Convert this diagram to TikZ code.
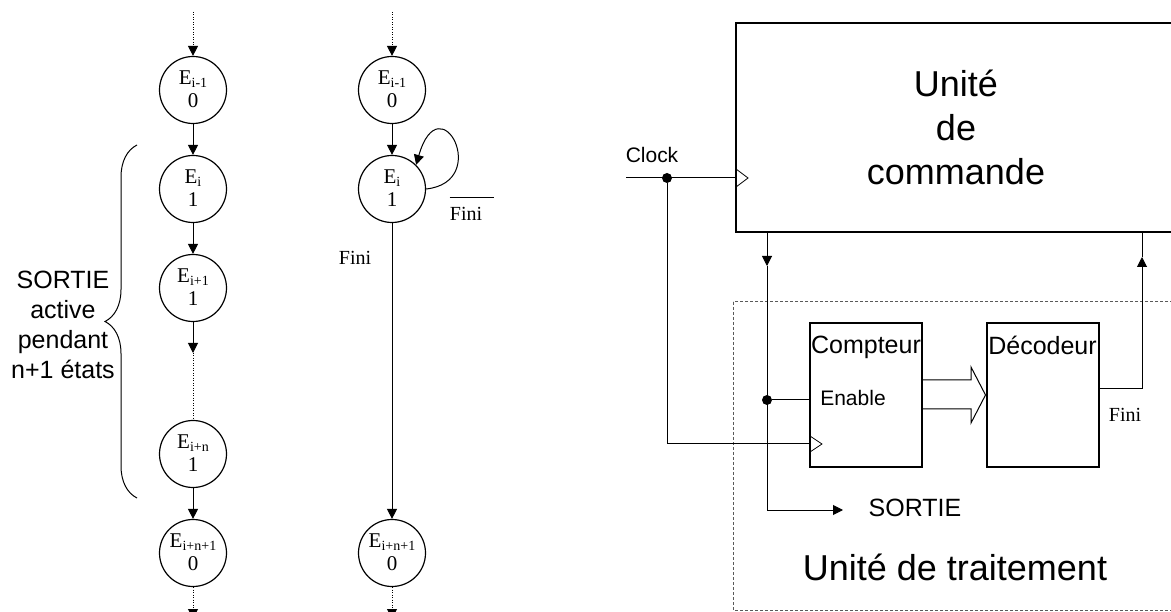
\documentclass[tikz,border=0pt]{standalone}
\usepackage{fontspec}
\setmainfont{Liberation Serif}
\newfontfamily\arialf{Liberation Sans}
\usetikzlibrary{arrows.meta,decorations.pathreplacing,calc}

\newcommand{\etat}[2]{E\raisebox{-3pt}{\fontsize{14}{14}\selectfont #1}\\#2}

\tikzset{
  etat/.style={circle,draw,line width=1.2pt,minimum size=67pt,inner sep=0pt,align=center,
    font=\fontsize{21}{23}\selectfont,text depth=2pt},
  fl/.style={-{Triangle[length=10pt,width=10pt]},line width=1pt},
  pointille/.style={fl,dash pattern=on 1pt off 1.5pt},
  bloc/.style={draw,line width=2pt,minimum width=112pt,minimum height=144pt,inner sep=0pt},
  lbl/.style={font=\arialf\fontsize{25}{30}\selectfont,align=center,inner sep=0pt},
  txt/.style={font=\fontsize{20}{23}\selectfont,inner sep=0pt},
  point/.style={circle,fill,inner sep=0pt,minimum size=10pt},
}

\begin{document}
\begin{tikzpicture}[x=1pt,y=-1pt]
\clip (0,0) rectangle (1171,612);

% graphe de gauche
\node[etat] (Aprev) at (193,90) {\etat{i-1}{0}};
\node[etat] (Ai) at (193,189) {\etat{i}{1}};
\node[etat] (Ai1) at (193,288) {\etat{i+1}{1}};
\node[etat] (Ain) at (193,454) {\etat{i+n}{1}};
\node[etat] (Ain1) at (193,553) {\etat{i+n+1}{0}};
\coordinate (Atop) at (193,12);
\coordinate (Amid) at (193,353);
\coordinate (Abot) at (193,619);
\draw[pointille] (Atop) -- (Aprev);
\draw[fl] (Aprev) -- (Ai);
\draw[fl] (Ai) -- (Ai1);
\draw[fl] (Ai1) -- (Amid);
\draw[line width=1pt,dash pattern=on 1pt off 1.5pt] (Amid) -- (Ain);
\draw[fl] (Ain) -- (Ain1);
\draw[pointille] (Ain1) -- (Abot);
\draw[line width=1pt,decorate,decoration={brace,amplitude=32pt}] (137,498) -- (137,145);
\node[lbl] (sortielbl) at (63,325) {SORTIE\\active\\pendant\\n+1 états};

% graphe de droite
\node[etat] (Bprev) at (392,90) {\etat{i-1}{0}};
\node[etat] (Bi) at (392,189) {\etat{i}{1}};
\node[etat] (Bin1) at (392,553) {\etat{i+n+1}{0}};
\coordinate (Btop) at (392,12);
\coordinate (Bbot) at (392,619);
\draw[pointille] (Btop) -- (Bprev);
\draw[fl] (Bprev) -- (Bi);
\draw[fl] (Bi) -- (Bin1);
\draw[pointille] (Bin1) -- (Bbot);
\draw[fl] (Bi.east) .. controls (492,182) and (440,82) .. (Bi.45);
\node[txt] (nfini) at (466,214) {Fini};
\draw[line width=1pt] ([yshift=10pt]nfini.north west) -- ++(44,0);
\node[txt] (fini) at (355,258) {Fini};

% unite de commande
\node[draw,line width=2.5pt,minimum width=440pt,minimum height=209pt,inner sep=0pt,
  align=center,font=\arialf\fontsize{36}{44}\selectfont] (cmd) at (956,127.5) {Unité\\de\\commande};
\node[font=\arialf\fontsize{21}{25}\selectfont,inner sep=0pt] (clk) at (652,155) {Clock};
\coordinate (clkin) at (626,178);
\node[point] (clkdot) at (667,178) {};
\draw[line width=1pt] (clkin) -- (clkin -| cmd.west);
\draw[line width=0.8pt] (736,169) -- (748,178) -- (736,187);

% unite de traitement
\draw[gray!70!black,line width=1pt,dash pattern=on 3pt off 2pt] (733,302) rectangle (1185,610);
\node[lbl,font=\arialf\fontsize{36}{44}\selectfont] (ut) at (955,567) {Unité de traitement};
\node[bloc] (cpt) at (866,395) {};
\node[bloc] (dec) at (1042.5,395) {};
\node[lbl,anchor=north] (cptlbl) at ([yshift=-14pt]cpt.north) {Compteur};
\node[lbl,anchor=north] (declbl) at ([yshift=-14pt]dec.north) {Décodeur};
\node[font=\arialf\fontsize{21}{25}\selectfont,inner sep=0pt] (en) at (853,398) {Enable};
\draw[line width=0.8pt] (810,436) -- (822,444) -- (810,452);

\coordinate (cmdout) at (767,232);
\coordinate (cmdarr) at (767,266);
\coordinate (sortiearr) at (843,510);
\node[point] (endot) at (767,400) {};
\draw[fl] (cmdout) -- (cmdarr);
\draw[fl] (cmdarr) |- (sortiearr);
\draw[line width=1pt] (endot) -- (endot -| cpt.west);
\draw[line width=1pt] (clkdot) |- (810,444);
\node[lbl] (sortie) at (915,508) {SORTIE};

% bus compteur -> decodeur
\draw[line width=1pt,fill=white] (cpt.east |- 0,380) -- (971,380) -- (971,367) -- (dec.west |- 0,395)
  -- (971,423) -- (971,409) -- (cpt.east |- 0,409);

% sortie Fini
\coordinate (finiout) at (dec.east |- 0,389);
\coordinate (finiarr) at (1142,257);
\draw[fl] (finiout) -| (finiarr);
\draw[line width=1pt] (finiarr) -- (finiarr |- cmd.south);
\node[txt] (finilbl) at (1125,415) {Fini};
\end{tikzpicture}
\end{document}
